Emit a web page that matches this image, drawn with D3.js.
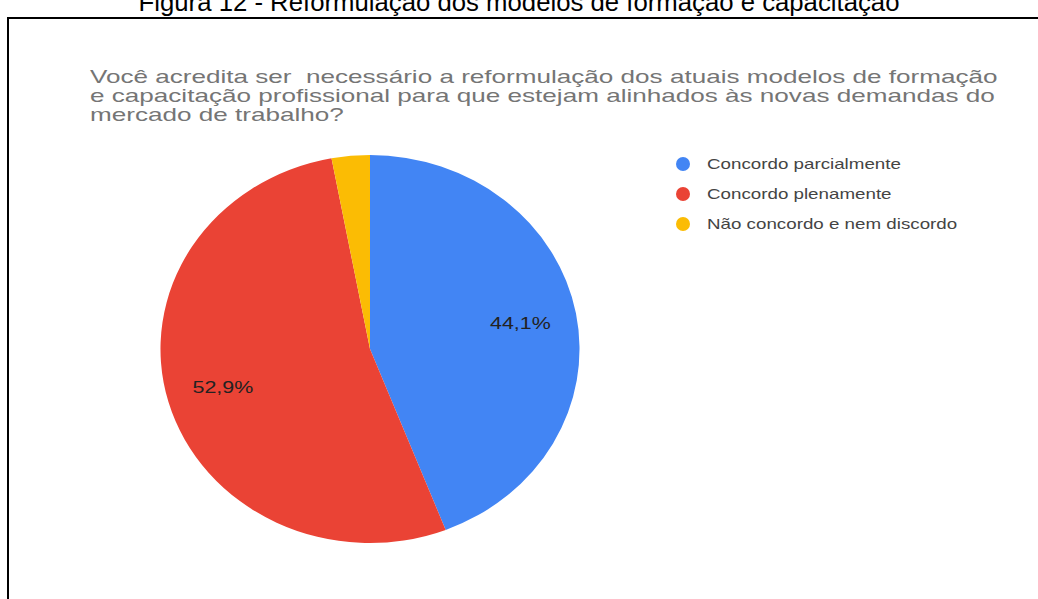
<!DOCTYPE html>
<html>
<head>
<meta charset="utf-8">
<script src="https://cdn.jsdelivr.net/npm/d3@7"></script>
<style>
  html, body { margin: 0; padding: 0; background: #fff; }
  svg { display: block; }
  text { white-space: pre; }
</style>
</head>
<body>
<svg id="chart" width="1038" height="599"></svg>
<script>
// Survey answers (respondent counts)
const categories = ["Concordo parcialmente", "Concordo plenamente", "Não concordo e nem discordo"];
const counts = [15, 18, 1];
const colors = ["#4285F4", "#EA4335", "#FBBC04"];

const captionText = "Figura 12 - Reformulação dos modelos de formação e capacitação";
const titleLines = [
  "Você acredita ser  necessário a reformulação dos atuais modelos de formação",
  "e capacitação profissional para que estejam alinhados às novas demandas do",
  "mercado de trabalho?"
];

const W = 1038, H = 599;
const svg = d3.select("#chart");
const FONT = "'Liberation Sans', Arial, sans-serif";
const SX = 1.34;       // horizontal stretch of the chart text
const TITLE_SX = 1.41; // horizontal stretch of the chart title
const PIE_SX = 1.08;   // horizontal stretch of the pie

// Figure caption above the frame
svg.append("text")
  .attr("transform", `translate(${W/2},11) scale(1.03,1)`)
  .attr("text-anchor", "middle")
  .attr("font-family", FONT).attr("font-size", 25)
  .attr("fill", "#000")
  .text(captionText);

// Frame around the chart
svg.append("rect")
  .attr("x", 8).attr("y", 18)
  .attr("width", W + 20).attr("height", H + 20)
  .attr("fill", "none").attr("stroke", "#000").attr("stroke-width", 2);

// Chart title
const title = svg.append("g").attr("transform", `translate(90,0) scale(${TITLE_SX},1)`);
title.selectAll("text").data(titleLines).join("text")
  .attr("x", 0).attr("y", (d, i) => 83 + i * 19)
  .attr("font-family", FONT).attr("font-size", 18.5)
  .attr("fill", "#757575")
  .text(d => d);

// Pie
const cx = 370, cy = 349, r = 194;
const pie = d3.pie().sort(null).value(d => d)(counts);
const arc = d3.arc().innerRadius(0).outerRadius(r);
const labelArc = d3.arc().innerRadius(r * 0.73).outerRadius(r * 0.73);
const total = d3.sum(counts);
const fmt = v => (Math.round(v / total * 1000) / 10).toFixed(1).replace(".", ",") + "%";

const pieG = svg.append("g").attr("transform", `translate(${cx},${cy}) scale(${PIE_SX},1)`);
pieG.selectAll("path").data(pie).join("path")
  .attr("d", arc)
  .attr("fill", (d, i) => colors[i]);

svg.append("g").attr("transform", `translate(${cx},${cy})`)
  .selectAll("text").data(pie.filter(d => d.endAngle - d.startAngle > 0.5)).join("text")
  .attr("transform", d => {
    const [x, y] = labelArc.centroid(d);
    return `translate(${x * PIE_SX},${y}) scale(${SX},1)`;
  })
  .attr("text-anchor", "middle").attr("dy", "0.35em")
  .attr("font-family", FONT).attr("font-size", 16)
  .attr("fill", "#222")
  .text(d => fmt(d.value));

// Legend
const legend = svg.append("g").attr("transform", "translate(683,164)");
const item = legend.selectAll("g").data(categories).join("g")
  .attr("transform", (d, i) => `translate(0,${i * 30})`);
item.append("circle").attr("r", 7).attr("fill", (d, i) => colors[i]);
item.append("text")
  .attr("transform", `translate(24,0) scale(${SX},1)`)
  .attr("dy", "0.35em")
  .attr("font-family", FONT).attr("font-size", 14)
  .attr("fill", "#444")
  .text(d => d);
</script>
</body>
</html>
